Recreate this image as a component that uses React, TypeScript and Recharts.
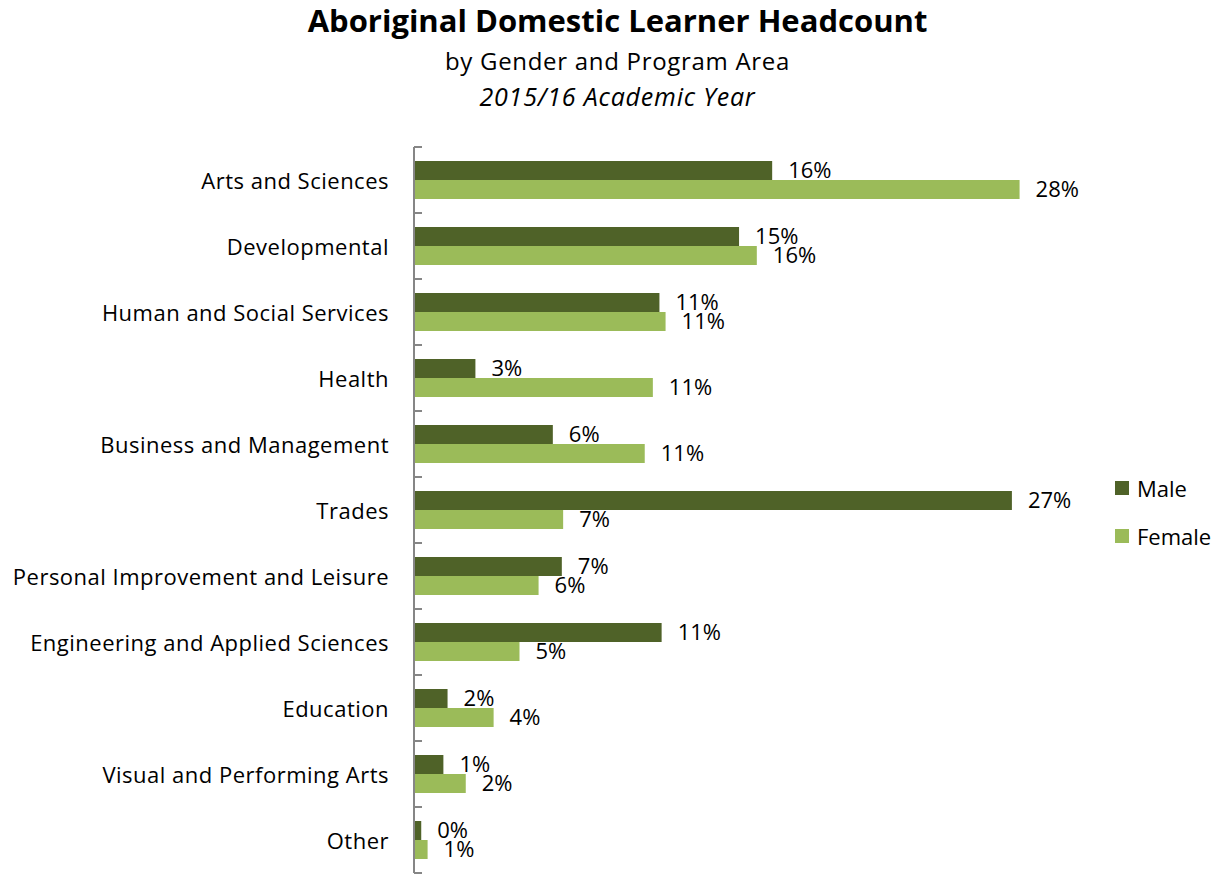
import { Bar, BarChart, LabelList, Legend, XAxis, YAxis } from "recharts";

const programs = [
  "Arts and Sciences",
  "Developmental",
  "Human and Social Services",
  "Health",
  "Business and Management",
  "Trades",
  "Personal Improvement and Leisure",
  "Engineering and Applied Sciences",
  "Education",
  "Visual and Performing Arts",
  "Other",
];

// share of headcount within each gender, in %
const male = [16.33, 14.82, 11.19, 2.8, 6.33, 27.26, 6.74, 11.29, 1.53, 1.34, 0.33];
const female = [27.61, 15.63, 11.47, 10.89, 10.52, 6.8, 5.68, 4.81, 3.63, 2.36, 0.62];

const seriesOrder = ["Male", "Female"];

const MALE_COLOR = "#4F6228";
const FEMALE_COLOR = "#9BBB59";
const FONT = "'Open Sans', Lato, sans-serif";

const data = programs.map((name, i) => ({ name, male: male[i], female: female[i] }));

const pct = (v: any) => `${Math.round(Number(v))}%`;

function ProgramTick(props: any) {
  const { x, y, payload, index } = props;
  const half = payload?.offset ?? 33;
  return (
    <g>
      <line x1={x} x2={x + 8} y1={y - half} y2={y - half} stroke="#868686" strokeWidth={2} />
      {index === programs.length - 1 && (
        <line x1={x} x2={x + 8} y1={y + half} y2={y + half} stroke="#868686" strokeWidth={2} />
      )}
      <text
        x={x - 25}
        y={y}
        textAnchor="end"
        dominantBaseline="central"
        fontSize={22}
        letterSpacing={0.5}
        fill="#000"
        fontFamily={FONT}
      >
        {payload.value}
      </text>
    </g>
  );
}

function GenderLegend({ payload }: any) {
  const items = [...(payload || [])].sort(
    (a: any, b: any) => seriesOrder.indexOf(a.value) - seriesOrder.indexOf(b.value)
  );
  return (
    <div style={{ fontFamily: FONT, fontSize: 22 }}>
      {items.map((p: any) => (
        <div key={p.value} style={{ display: "flex", alignItems: "center", height: 48 }}>
          <span style={{ width: 14, height: 14, background: p.color, marginRight: 8 }} />
          <span>{p.value}</span>
        </div>
      ))}
    </div>
  );
}

export default function App() {
  return (
    <div style={{ position: "absolute", left: 0, top: 0, width: 1221, height: 875, background: "#fff", fontFamily: FONT }}>
      <div style={{ position: "absolute", top: -1, width: 1235, textAlign: "center", fontSize: 31, fontWeight: 700 }}>
        Aboriginal Domestic Learner Headcount
      </div>
      <div style={{ position: "absolute", top: 44, width: 1235, textAlign: "center", fontSize: 24, letterSpacing: 0.7 }}>
        by Gender and Program Area
      </div>
      <div
        style={{
          position: "absolute",
          top: 79,
          width: 1235,
          textAlign: "center",
          fontSize: 25,
          letterSpacing: 0.8,
          fontStyle: "italic",
        }}
      >
        2015/16 Academic Year
      </div>
      <div style={{ position: "absolute", left: 0, top: 0 }}>
        <BarChart
          width={1221}
          height={875}
          layout="vertical"
          data={data}
          margin={{ top: 147, right: 39, bottom: 2, left: 0 }}
          barGap={0}
          barCategoryGap="21%"
        >
          <XAxis type="number" domain={[0, 30]} hide />
          <YAxis
            type="category"
            dataKey="name"
            width={414}
            axisLine={{ stroke: "#868686", strokeWidth: 2 }}
            tickLine={false}
            tickSize={0}
            tickMargin={0}
            interval={0}
            tick={<ProgramTick />}
          />
          <Legend
            layout="vertical"
            verticalAlign="top"
            align="right"
            wrapperStyle={{ left: 1115, top: 464, width: 110 }}
            content={<GenderLegend />}
          />
          <Bar dataKey="male" name="Male" fill={MALE_COLOR} barSize={19} isAnimationActive={false}>
            <LabelList dataKey="male" position="right" offset={16} formatter={pct} fontSize={22} fill="#000" fontFamily={FONT} />
          </Bar>
          <Bar dataKey="female" name="Female" fill={FEMALE_COLOR} barSize={19} isAnimationActive={false}>
            <LabelList dataKey="female" position="right" offset={16} formatter={pct} fontSize={22} fill="#000" fontFamily={FONT} />
          </Bar>
        </BarChart>
      </div>
    </div>
  );
}
